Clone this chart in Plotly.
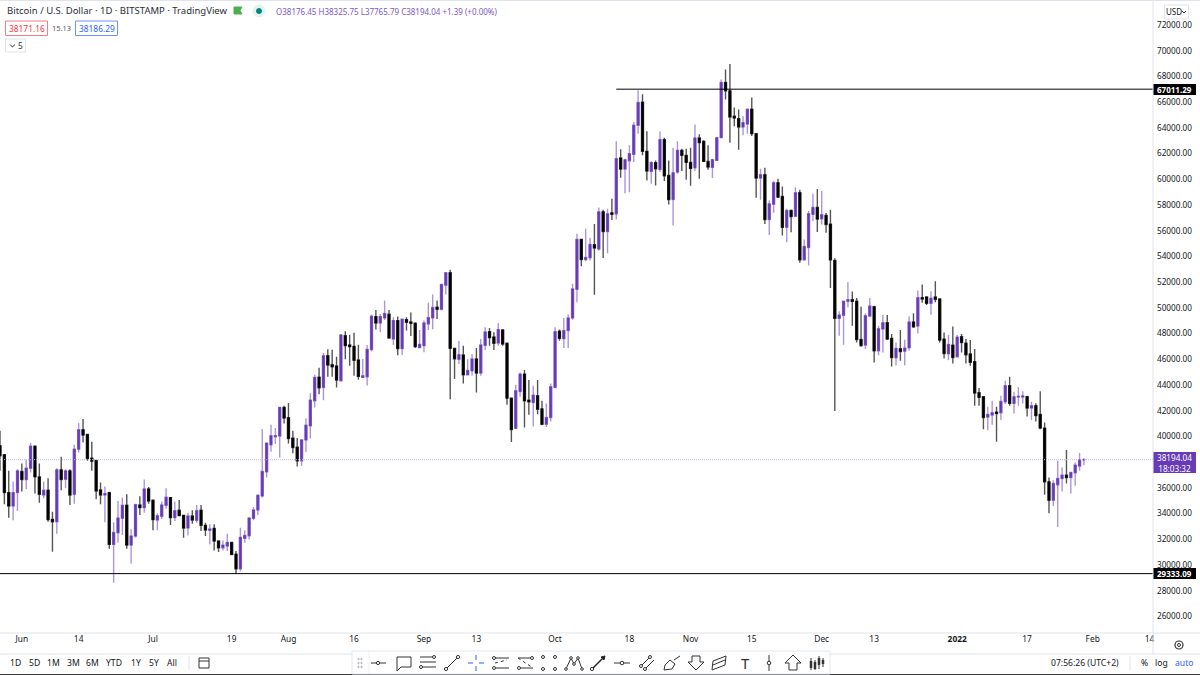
import pandas as pd
import plotly.graph_objects as go

open_px = [39275,38573,35635,34595,35635,37273,36649,37533,39249,36857,35453,35817,33555,33373,37403,36675,37325,35505,39015,40523,40159,38313,38131,35843,35453,35635,31605,32515,33633,34647,31553,32255,34673,34465,35921,35037,33503,33789,34647,35245,33685,34257,33867,32879,33815,33477,34257,33087,32697,32853,31865,31345,31475,31761,30851,29707,32073,32281,33633,34283,35375,37247,39353,39977,40029,42265,41459,39873,39171,
 38105,39731,40823,42773,44619,43813,46283,45581,45477,44333,47843,47115,47011,45945,44593,44645,46751,49325,48831,49221,49507,47583,49013,46829,49091,48909,48805,46907,47063,48753,49221,50053,49897,51769,52731,46855,45997,46335,44801,45113,46023,44931,47089,48155,47739,47271,48285,47245,42981,40641,43501,44853,42825,42643,43163,42149,40953,41473,43813,48181,47609,48233,
 49217,51453,55327,53767,53897,54921,54583,57469,55935,57391,57313,61655,60797,61447,61941,64203,65997,62175,60615,61291,60771,63085,60303,58431,60563,62253,61863,61317,60901,63215,62955,61395,60927,61473,63241,67531,66881,64905,64723,64073,64307,65451,63553,60095,60355,56871,58067,59731,58665,56273,57573,57131,
 58962,53736,54698,57272,57818,56934,57194,56518,53684,49186,49420,50512,50642,50512,47548,47106,49368,50096,46664,48354,48848,47626,46118,46820,46638,46898,48900,48588,50798,50850,50356,50850,50694,47574,46430,47106,46196,47756,47262,
 46420,45822,43404,43092,41506,41662,41896,41844,42702,43950,42572,43066,43066,43092,42208,42390,41714,
 40652,36472,35042,36238,36732,36992,36810,37174,37694,38176.45]
high_px = [40445,38573,37325,36493,37455,37897,38235,39483,39300,37897,36493,36753,34153,37533,38417,37455,37455,39353,41043,41355,40200,39587,38131,36415,36103,35700,33321,34985,35245,35505,32775,34777,35349,36649,36077,35037,34023,34933,35973,35245,34933,35063,33867,34075,34257,34673,34673,33295,33165,33165,31865,31917,32437,31800,31085,32905,32697,33700,34517,35450,40575,39500,40913,40653,42317,42395,42603,40445,39873,
 39800,41421,43371,44801,45347,46491,46777,46751,46205,47973,48181,47921,48077,47141,46023,47115,49481,49845,49533,50573,49845,49273,49325,49143,49273,49637,48883,48285,49013,50391,51041,50573,51850,52783,52965,46900,47427,47063,45997,46413,46881,47583,48493,48441,48103,48831,48363,47300,43000,44021,44983,45165,44385,43943,44385,42773,42565,44125,48493,48311,49221,49481,
 51869,55769,55327,56159,55457,56533,57807,57625,57703,58483,62955,62331,61603,62643,64463,66933,66621,63735,61395,61473,63735,63241,61473,62461,62955,62383,62383,62461,64255,63501,63033,62643,61603,63300,67765,68545,68961,65581,65425,64905,65451,66361,63605,60823,60901,58353,59861,60043,59445,57703,57651,59393,
 59196,55322,57532,58884,59248,59092,57376,57636,53866,49732,50564,51994,51266,50772,50096,49576,50772,50174,48614,49472,49446,47964,47314,48276,47522,49342,49576,51344,51812,50876,51292,52072,50700,48094,47886,48562,47886,47964,47574,
 47512,46810,43768,43092,42312,42780,42312,43170,44340,44652,43482,43820,43508,43170,42702,42580,43510,
 41094,36810,36602,38110,37590,38942,37250,37980,38708,38325.75]
low_px = [37325,34725,33685,33477,34205,35713,35895,37195,35557,34855,35193,33373,31033,32437,35817,35973,34673,34777,38755,39535,38105,37325,35115,34725,33321,31267,28615,31735,32333,31267,30097,32125,33893,34075,34777,32697,32697,33555,34387,33113,33425,33800,32125,32307,33217,33295,32645,32255,31605,31137,31007,31137,31085,30773,29317,29525,31735,31995,33477,33893,35245,36805,38807,39405,38365,41017,39457,38703,37663,
 37700,38800,39835,42253,43293,42825,44645,44645,43813,44281,46003,45503,44723,44411,44541,43969,46621,48311,48103,49065,47600,47115,46309,46335,48233,47817,46881,46881,46543,48285,48337,49143,49793,51041,42903,44463,45633,44125,44749,44723,43423,44723,46725,47063,46725,47063,47063,42461,39575,40600,43085,40693,41681,40771,41733,40875,40745,41161,43750,47453,46881,46881,
 49087,50439,53247,53637,53689,51021,54453,53881,54245,56845,56871,60121,58925,59003,61343,63553,61863,59913,59653,59523,60563,59861,58041,56403,60433,60641,59965,59497,60641,60043,61343,60745,60095,61421,63200,66205,62851,64125,62305,63423,63553,63371,58561,58405,56533,55675,57391,58561,55623,55103,55883,57053,
 53502,53684,53294,56752,55894,56492,55842,51552,41984,47834,47132,50044,48614,47314,46976,46794,49264,45754,46326,46534,47496,45442,45520,45884,45546,46664,48432,48016,50408,50226,49472,50434,47314,46066,45936,45676,46144,46534,45676,
 45510,42390,42390,40570,40492,40908,39586,41272,42520,42390,41792,42390,42572,41558,41272,41170,40570,
 35458,34028,34600,32962,35718,36342,35562,36160,37330,37765.79]
close_px = [38495,35635,34595,35635,37325,36649,37533,39249,36857,35505,35817,33529,33373,37403,36649,37325,35453,39015,40523,40107,38287,38079,35765,35453,35557,31605,32541,33659,34647,31553,32255,34699,34465,35921,34985,33529,33841,34673,35271,33685,34231,33841,32879,33815,33503,34231,33087,32723,32801,31865,31345,31553,31761,30825,29707,32151,32307,33659,34283,35427,37273,39483,40055,40055,42265,41433,39847,39145,38105,
 39731,40875,42825,44593,43787,46283,45555,45425,44385,47895,47063,46985,45919,44671,44723,46777,49351,48831,49325,49559,47661,49013,46829,49117,48883,48805,46985,47167,48831,49247,50027,49897,51821,52731,46855,46049,46361,44801,45139,46023,44931,47115,48129,47687,47245,48311,47193,42981,40537,43553,44853,42773,42695,43215,42123,40953,41473,43865,48155,47635,48233,49221,
 51479,55327,53767,53923,54937,54661,57469,55935,57313,57287,61603,60797,61525,61993,64203,65971,62175,60641,61317,60823,63085,60277,58431,60511,62253,61863,61317,60849,63215,62851,61395,60953,61525,63241,67531,66881,64853,64775,64073,64411,65451,63553,60095,60355,56871,58093,59731,58613,56273,57573,57105,58951,
 53736,54776,57324,57818,56908,57246,56492,53736,49186,49446,50512,50642,50512,47548,47080,49394,50148,46664,48380,48848,47574,46144,46846,46612,46872,48900,48536,50798,50694,50356,50746,50668,47496,46456,47158,46144,47730,47314,46352,
 45770,43378,43040,41480,41714,41844,41792,42728,43950,42572,43092,43118,43144,42208,42390,41620,40652,
 36472,35042,36342,36732,36992,36810,37200,37772,38188,38194.04]

first_day = "2021-05-27"
tick_dates = ["2021-06-01","2021-06-14","2021-07-01","2021-07-19","2021-08-01","2021-08-16","2021-09-01","2021-09-13","2021-10-01","2021-10-18","2021-11-01","2021-11-15","2021-12-01","2021-12-13","2022-01-01","2022-01-17","2022-02-01","2022-02-14"]
tick_names = ["Jun","14","Jul","19","Aug","16","Sep","13","Oct","18","Nov","15","Dec","13","<b>2022</b>","17","Feb","14"]
price_ticks = [26000,28000,30000,32000,34000,36000,40000,42000,44000,46000,48000,50000,52000,54000,56000,58000,60000,62000,64000,66000,68000,70000,72000]
resistance = 67011.29
resistance_from = "2021-10-15"
support = 29333.09
last_price = 38194.04

dates = pd.date_range(first_day, periods=len(close_px))

PURPLE = "#673ab7"
WICK_PURPLE = "#ab96dc"
WICK_BLACK = "#555555"
INK = "#131722"
FONT = "Noto Sans, Open Sans, sans-serif"

x_end = pd.Timestamp(first_day) + pd.Timedelta(days=263.8)
x_start = pd.Timestamp(first_day)

fig = go.Figure()
fig.add_trace(go.Scatter(x=[x_start, x_end], y=[last_price, last_price], mode="lines",
                         line=dict(color="#c3b3e8", width=1, dash="1px,1px"), hoverinfo="skip", showlegend=False))
# wicks
fig.add_trace(go.Candlestick(x=dates, open=open_px, high=high_px, low=low_px, close=close_px,
    increasing=dict(line=dict(color=WICK_PURPLE, width=1.4), fillcolor=PURPLE),
    decreasing=dict(line=dict(color=WICK_BLACK, width=1.4), fillcolor="#000000"),
    whiskerwidth=0, hoverinfo="skip", showlegend=False))
# bodies over the wicks
body_top = [max(a, b) for a, b in zip(open_px, close_px)]
body_bot = [min(a, b) for a, b in zip(open_px, close_px)]
fig.add_trace(go.Candlestick(x=dates, open=open_px, high=body_top, low=body_bot, close=close_px,
    increasing=dict(line=dict(color=PURPLE, width=0.6), fillcolor=PURPLE),
    decreasing=dict(line=dict(color="#000000", width=0.6), fillcolor="#000000"),
    whiskerwidth=0, hoverinfo="skip", showlegend=False))
fig.add_trace(go.Scatter(x=[resistance_from, x_end], y=[resistance, resistance], mode="lines",
                         line=dict(color="#000000", width=1), hoverinfo="skip", showlegend=False))
fig.add_trace(go.Scatter(x=[x_start, x_end], y=[support, support], mode="lines",
                         line=dict(color="#000000", width=1), hoverinfo="skip", showlegend=False))

PW, PT, PB = 1153.0, 3.0, 633.0
def px(x): return x / PW
def py(y): return (PB - y) / (PB - PT)

shapes, notes = [], []
def label(x, y, text, size=8.5, color=INK, anchor="left", bg=None):
    notes.append(dict(xref="paper", yref="paper", x=px(x), y=py(y), text=text, showarrow=False,
                      xanchor=anchor, yanchor="middle", font=dict(size=size, color=color, family=FONT),
                      bgcolor=bg, borderpad=0))
def rect(x0, y0, x1, y1, line=None, fill=None, w=1):
    shapes.append(dict(type="rect", xref="paper", yref="paper", x0=px(x0), x1=px(x1), y0=py(y0), y1=py(y1),
                       line=dict(color=line or "rgba(0,0,0,0)", width=w if line else 0), fillcolor=fill or "rgba(0,0,0,0)"))
def seg(x0, y0, x1, y1, color="#333333", w=1, dash=None):
    shapes.append(dict(type="line", xref="paper", yref="paper", x0=px(x0), x1=px(x1), y0=py(y0), y1=py(y1),
                       line=dict(color=color, width=w, dash=dash or "solid")))
def circ(x, y, r, line="#333333", fill="#ffffff", w=1):
    shapes.append(dict(type="circle", xref="paper", yref="paper", x0=px(x-r), x1=px(x+r), y0=py(y+r), y1=py(y-r),
                       line=dict(color=line, width=w), fillcolor=fill))
def poly(points, line="#333333", fill="rgba(0,0,0,0)", w=1, close=True):
    d = " ".join(("M" if i == 0 else "L") + f"{px(a):.5f},{py(b):.5f}" for i, (a, b) in enumerate(points))
    if close: d += " Z"
    shapes.append(dict(type="path", xref="paper", yref="paper", path=d, line=dict(color=line, width=w), fillcolor=fill))

# panel borders
seg(1153, 0, 1153, 654, "#e0e3eb")
seg(0, 633, 1200, 633, "#e0e3eb")
seg(0, 654, 1200, 654, "#e0e3eb")
seg(0, 0, 1200, 0, "#e0e3eb", 2)
seg(0, 674.5, 1200, 674.5, "#3a3a3a", 1)
# header
label(6, 11, "Bitcoin / U.S. Dollar · 1D · BITSTAMP · TradingView", 9.5, "#2a2e39")
poly([(234,7),(242,7),(240,10.5),(242,14),(234,14)], "#4caf50", "#4caf50")
circ(259, 11, 6, "#e3f3f0", "#e3f3f0")
circ(259, 11, 2.5, "#00897b", "#00897b")
label(275, 11.5, "O38176.45 H38325.75 L37765.79 C38194.04 +1.39 (+0.00%)", 8.0, "#7e57c2")
rect(5.5, 21, 47.5, 35.5, "#f77c80", "#ffffff")
label(26.5, 28.5, "38171.16", 8.4, "#f23645", "center")
label(61, 28.5, "15.13", 7.4, "#555a66", "center")
rect(75.5, 21, 117.5, 35.5, "#6f93f5", "#ffffff")
label(96.5, 28.5, "38186.29", 8.4, "#2962ff", "center")
rect(5.5, 39, 25.5, 52, "#e0e3eb", "#ffffff")
poly([(10,44.5),(12.5,47),(15,44.5)], "#333333", close=False)
label(20, 45.5, "5", 8.4, "#333333", "center")
# currency button
rect(1164.5, 5, 1188.5, 19, "#e0e3eb", "#ffffff")
label(1173.5, 12, "USD", 8, INK, "center")
poly([(1182,11),(1184,13),(1186,11)], "#333333", close=False)
# price tags
rect(1153.5, 84, 1196, 95, None, "#000000")
label(1174.5, 89.5, "<b>67011.29</b>", 8, "#ffffff", "center")
rect(1153.5, 452, 1196, 473, None, PURPLE)
label(1174.5, 462.5, "38194.04<br>18:03:32", 8.2, "#ffffff", "center")
rect(1153.5, 568, 1196, 579, None, "#000000")
label(1174.5, 573.5, "<b>29333.09</b>", 8, "#ffffff", "center")
# range row
for xc, t in zip([15,34,53,73,92,114,136,154,172], ["1D","5D","1M","3M","6M","YTD","1Y","5Y","All"]):
    label(xc, 663, t, 8.6, INK, "center")
seg(189, 656, 189, 670, "#e0e3eb")
rect(199, 658, 209, 668, "#333333")
seg(199, 661, 209, 661)
label(1085, 663, "07:56:26 (UTC+2)", 8.6, INK, "center")
seg(1130, 656, 1130, 670, "#e0e3eb")
label(1144, 663, "%", 8.6, INK, "center")
label(1161, 663, "log", 8.6, INK, "center")
label(1184, 663, "auto", 8.6, "#2962ff", "center")
# gear
circ(1179, 645, 4, "#333333", "#ffffff", 1.2)
circ(1179, 645, 1.5, "#333333", "#ffffff", 1)
# drawing toolbar
rect(352, 651, 830, 674, "#e6e8ef", "#ffffff")
for yy in (659, 663, 667):
    for xx in (358.5, 361.5):
        circ(xx, yy, 0.7, "#b2b5be", "#b2b5be")
seg(369, 651, 369, 674, "#eeeeee")
# line
seg(371, 663, 386, 663); circ(378, 663, 1.6)
# callout
poly([(397,657),(411,657),(411,667),(401,667),(397,671)])
# fib lines
for yy in (657, 662, 667):
    seg(420, yy, 436, yy)
circ(434, 657, 1.5); circ(421, 667, 1.5)
# trend
seg(446, 669, 458, 657); circ(446, 669, 1.6); circ(458, 657, 1.6)
# crosshair
for a, b, c, d in [(468,663,473,663),(479,663,484,663),(476,655,476,660),(476,666,476,671)]:
    seg(a, b, c, d, "#2962ff")
# channels
seg(493, 658, 509, 658); seg(493, 668, 509, 668); seg(495, 663, 507, 660, dash="dot")
circ(494, 658, 1.5); circ(494, 668, 1.5)
seg(518, 658, 533, 658); seg(518, 668, 533, 668); seg(518, 658, 533, 668, dash="dot")
circ(532, 658, 1.5); circ(519, 668, 1.5)
# box
rect(543, 657, 555, 669)
for a, b in [(543,657),(555,657),(543,669),(555,669)]:
    circ(a, b, 1.5)
# pattern
poly([(566,669),(571,658),(574,664),(578,658),(582,669)], close=False)
for a, b in [(566,669),(571,658),(574,664),(578,658),(582,669)]:
    circ(a, b, 1.3)
# arrow line
seg(592, 669, 604, 657, "#222222", 1.4); circ(592, 669, 1.6); poly([(601,657),(605,656),(604,660)], "#222222", "#222222")
# horizontal ray
seg(614, 663, 630, 663); circ(622, 663, 1.8)
# parallel
seg(640, 667, 650, 657); seg(644, 670, 654, 660); circ(641, 666, 1.5); circ(650, 657, 1.5); circ(645, 669, 1.5)
# brush
poly([(664,670),(665,665),(670,660),(675,664),(672,669)]); seg(674, 660, 680, 656)
# down arrow
poly([(692,656),(700,656),(700,662),(704,662),(696,670),(688,662),(692,662)])
# parallelogram
poly([(713,661),(726,656),(725,665),(712,670)]); seg(713,665,725,660)
# T
label(745, 663, "T", 15, "#333333", "center")
# vertical
seg(769, 655, 769, 671); circ(769, 663, 1.8)
# up arrow
poly([(793,655),(801,663),(797,663),(797,670),(789,670),(789,663),(785,663)])
# candles
for xx, a, b, c, d in [(811,658,670,661,668),(815,660,670,662,669),(819,656,669,658,665),(823,658,667,660,664)]:
    seg(xx, a, xx, b, "#333333"); seg(xx, c, xx, d, "#333333", 2.5)

fig.update_layout(
    width=1200, height=675, autosize=False,
    margin=dict(l=0, r=47, t=3, b=42),
    paper_bgcolor="#ffffff", plot_bgcolor="#ffffff",
    font=dict(family=FONT, color=INK),
    showlegend=False, boxgap=0.35,
    shapes=shapes, annotations=notes,
    xaxis=dict(type="date", range=[x_start, x_end], rangeslider=dict(visible=False),
               tickvals=tick_dates, ticktext=tick_names, tickangle=0,
               tickfont=dict(size=8.4, color=INK, family=FONT), showgrid=False, zeroline=False,
               ticks="", showline=False),
    yaxis=dict(side="right", range=[24715, 73714], tickvals=price_ticks,
               ticktext=[f"{v:.2f}" for v in price_ticks],
               tickfont=dict(size=8.2, color=INK, family=FONT), showgrid=False, zeroline=False,
               ticks="", showline=False, ticklabelstandoff=3),
)
fig.write_html("out.html", config={"displayModeBar": False}, post_script="document.body.style.margin='0';")
